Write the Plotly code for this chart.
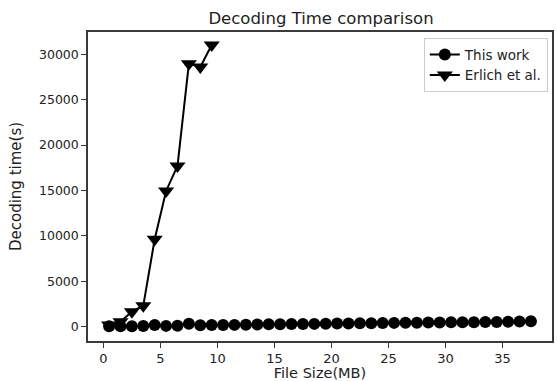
import plotly.graph_objects as go

# File sizes (MB)
this_work_x = [i + 0.5 for i in range(38)]
this_work_y = [40, 50, 60, 70, 180, 90, 100, 330, 150, 180, 190, 200, 220, 240,
               260, 270, 290, 300, 310, 330, 340, 360, 370, 390, 400, 420, 430,
               440, 450, 470, 480, 490, 500, 520, 530, 550, 570, 590]

erlich_x = [0.5, 1.5, 2.5, 3.5, 4.5, 5.5, 6.5, 7.5, 8.5, 9.5]
erlich_y = [200, 550, 1660, 2320, 9630, 14950, 17710, 28970, 28600, 31030]

x_ticks = [0, 5, 10, 15, 20, 25, 30, 35]
y_ticks = [0, 5000, 10000, 15000, 20000, 25000, 30000]

FONT = "DejaVu Sans"
AX = "#3a3a3a"
TXT = "#222"

fig = go.Figure()
fig.add_trace(go.Scatter(
    x=this_work_x, y=this_work_y, mode="lines+markers", name="This work",
    line=dict(color="black", width=2),
    marker=dict(symbol="circle", size=12, color="black"),
))
fig.add_trace(go.Scatter(
    x=erlich_x, y=erlich_y, mode="lines+markers", name="Erlich et al.",
    line=dict(color="black", width=2),
    marker=dict(symbol="triangle-down", size=14, color="black"),
))

fig.update_layout(
    width=557, height=381,
    margin=dict(l=88, r=3, t=32, b=40),
    paper_bgcolor="white", plot_bgcolor="white",
    font=dict(family=FONT, color=TXT, size=13),
    title=dict(text="Decoding Time comparison", x=(88 + 554) / 2 / 557, xanchor="center",
               y=1 - 18 / 381, yanchor="middle", font=dict(size=16.5, family=FONT, color=TXT)),
    showlegend=True,
    legend=dict(x=0.991, y=0.98, xanchor="right", yanchor="top",
                bgcolor="white", bordercolor="#cccccc", borderwidth=1,
                font=dict(size=13.5, family=FONT, color=TXT),
                tracegroupgap=0, itemwidth=30),
)
fig.update_xaxes(
    range=[-1.35, 39.35], tickvals=x_ticks, ticktext=[str(v) for v in x_ticks],
    showgrid=False, zeroline=False, showline=True, mirror=True,
    linecolor=AX, linewidth=1.5, ticks="outside", ticklen=5, tickwidth=1.2, tickcolor=AX,
    tickfont=dict(size=13, family=FONT, color=TXT),
    title=dict(text="File Size(MB)", font=dict(size=14.5, family=FONT, color=TXT), standoff=2),
)
fig.update_yaxes(
    range=[-1575, 32455], tickvals=y_ticks, ticktext=[str(v) for v in y_ticks],
    showgrid=False, zeroline=False, showline=True, mirror=True,
    linecolor=AX, linewidth=1.5, ticks="outside", ticklen=5, tickwidth=1.2, tickcolor=AX,
    tickfont=dict(size=12.5, family=FONT, color=TXT), ticklabelstandoff=0,
    title=dict(text="Decoding time(s)", font=dict(size=15, family=FONT, color=TXT), standoff=14),
)

fig.write_html("out.html")
